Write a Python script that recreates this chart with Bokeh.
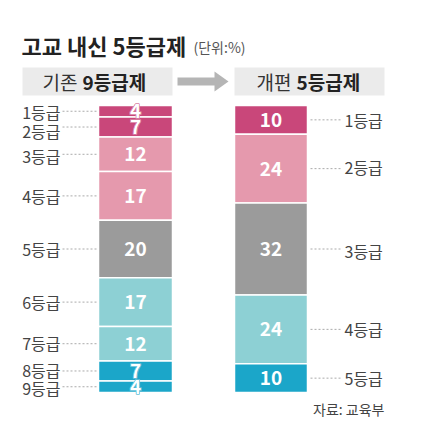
import numpy as np
from bokeh.plotting import figure
from bokeh.models import Range1d, ColumnDataSource
from bokeh.core.properties import value
from bokeh.embed import file_html
from bokeh.resources import INLINE

# ---------------- data ----------------
title = "고교 내신 5등급제"
unit = "(단위:%)"
old_label = ("기존 ", "9등급제")
new_label = ("개편 ", "5등급제")
source_note = "자료: 교육부"

old_grades = ["1등급", "2등급", "3등급", "4등급", "5등급", "6등급", "7등급", "8등급", "9등급"]
old_pct = [4, 7, 12, 17, 20, 17, 12, 7, 4]
new_grades = ["1등급", "2등급", "3등급", "4등급", "5등급"]
new_pct = [10, 24, 32, 24, 10]

# ---------------- style ----------------
DARK_PINK = "#c9477a"
LIGHT_PINK = "#e599ad"
GRAY = "#9b9b9b"
LIGHT_TEAL = "#8dd0d4"
CYAN = "#1ba6c9"
old_colors = [DARK_PINK, DARK_PINK, LIGHT_PINK, LIGHT_PINK, GRAY, LIGHT_TEAL, LIGHT_TEAL, CYAN, CYAN]
new_colors = [DARK_PINK, LIGHT_PINK, GRAY, LIGHT_TEAL, CYAN]
old_outline = [True, True, False, False, False, False, False, True, True]
new_outline = [False] * 5
old_label_nudge = [1, 4, 2, 0, 0, 0, -1, -1, 1]   # px, label spreading
new_label_nudge = [0, -2, 2, 0, 0]

W, H = 435, 448
TOP = 105.0      # px where bars start
S = 2.87         # px per percent
FONT = "Noto Sans CJK KR"

def Y(px):
    return (px - TOP) / S

p = figure(width=W, height=H, x_range=Range1d(0, W),
           y_range=Range1d((H - TOP) / S, -TOP / S),
           x_axis_type=None, y_axis_type=None, toolbar_location=None,
           output_backend="svg", min_border=0, outline_line_color=None,
           background_fill_color="white", border_fill_color="white")
p.grid.visible = False

# title
p.text(x=[21], y=[Y(44)], text=[title], text_font=value(FONT), text_font_style="bold",
       text_font_size="22px", text_color="#222222", text_baseline="middle", text_align="left")
p.text(x=[193], y=[Y(46)], text=[unit], text_font=value(FONT),
       text_font_size="14px", text_color="#555555", text_baseline="middle", text_align="left")

# header boxes + arrow
p.quad(left=[22, 234], right=[172, 384], top=[Y(67), Y(67)], bottom=[Y(95), Y(95)],
       fill_color="#ebebeb", line_color=None)
p.quad(left=[177], right=[215], top=[Y(77)], bottom=[Y(85)], fill_color="#b5b5b5", line_color=None)
p.patch(x=[214, 228, 214], y=[Y(71), Y(81), Y(91)], fill_color="#b5b5b5", line_color=None)

for (reg, bold), x0 in ((old_label, 42), (new_label, 256)):
    p.text(x=[x0], y=[Y(81)], text=[reg], text_font=value(FONT), text_font_size="19px",
           text_color="#333333", text_baseline="middle", text_align="left")
    p.text(x=[x0 + 40], y=[Y(81)], text=[bold], text_font=value(FONT), text_font_style="bold",
           text_font_size="19px", text_color="#222222", text_baseline="middle", text_align="left")

def stack(pct, grades, colors, outlines, nudges, x0, x1, side):
    pct = np.array(pct, dtype=float)
    ends = np.cumsum(pct)
    starts = ends - pct
    mids = (starts + ends) / 2
    src = ColumnDataSource(dict(top=starts, bottom=ends, color=colors,
                                mid=mids, txt=[str(int(v)) for v in pct]))
    p.quad(left=x0, right=x1, top="top", bottom="bottom", fill_color="color",
           line_color="white", line_width=1.5, source=src)
    xc = (x0 + x1) / 2
    # numbers
    for m, t, c, o in zip(mids, src.data["txt"], colors, outlines):
        if o:
            p.text(x=[xc], y=[m], text=[t], text_font=value(FONT), text_font_style="bold",
                   text_font_size="19px", text_color="white", text_align="center",
                   text_baseline="middle", text_outline_color="white")
            p.text(x=[xc], y=[m], text=[t], text_font=value(FONT), text_font_style="bold",
                   text_font_size="19px", text_color=c, text_align="center",
                   text_baseline="middle", text_outline_color=c)
        p.text(x=[xc], y=[m], text=[t], text_font=value(FONT), text_font_style="bold",
               text_font_size="19px", text_color="white", text_align="center",
               text_baseline="middle")
    # leader lines + grade labels
    for m, g, n in zip(mids, grades, nudges):
        if side == "left":
            p.line(x=[62, x0 - 1], y=[m, m], line_color="#aaaaaa", line_width=1, line_dash="2 2")
            p.text(x=[60], y=[m + n / S], text=[g], text_font=value(FONT), text_font_size="16px",
                   text_color="#444444", text_align="right", text_baseline="middle")
        else:
            p.line(x=[x1 + 3, 342], y=[m, m], line_color="#aaaaaa", line_width=1, line_dash="2 2")
            p.text(x=[344], y=[m + n / S], text=[g], text_font=value(FONT), text_font_size="16px",
                   text_color="#444444", text_align="left", text_baseline="middle")

stack(old_pct, old_grades, old_colors, old_outline, old_label_nudge, 98, 172, "left")
stack(new_pct, new_grades, new_colors, new_outline, new_label_nudge, 234, 307, "right")

p.text(x=[384], y=[Y(408)], text=[source_note], text_font=value(FONT), text_font_size="14px",
       text_color="#444444", text_align="right", text_baseline="middle")

open("out.html", "w").write(file_html(p, INLINE))
